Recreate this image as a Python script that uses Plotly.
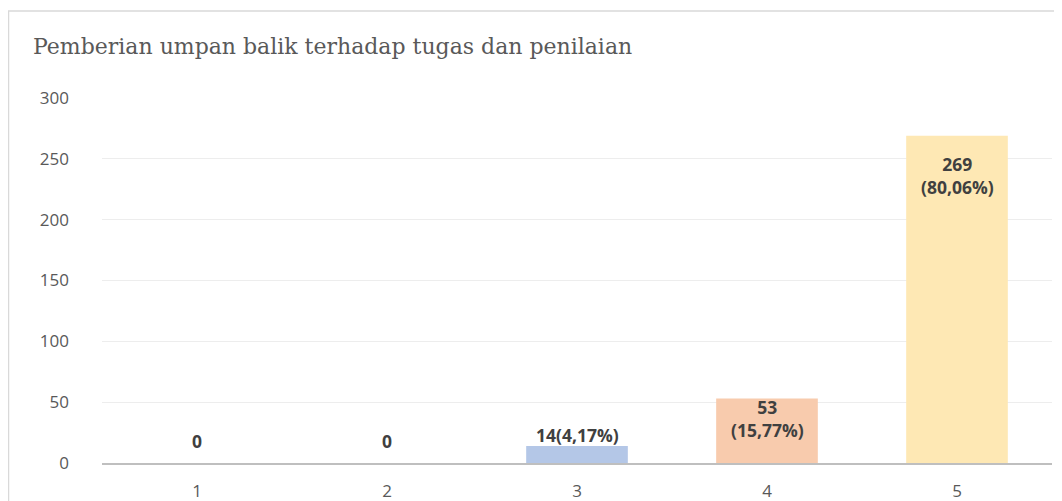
import plotly.graph_objects as go

categories = ["1", "2", "3", "4", "5"]
values = [0, 0, 14, 53, 269]
labels = ["0", "0", "14(4,17%)", "53<br>(15,77%)", "269<br>(80,06%)"]
title_text = "Pemberian umpan balik terhadap tugas dan penilaian"
y_ticks = [0, 50, 100, 150, 200, 250, 300]

bar_colors = ["#B4C7E7", "#B4C7E7", "#B4C7E7", "#F8CBAD", "#FEE8B4"]
label_shift = [22, 22, 11, -20, -40]

# page has an 8px body margin: figure coords = page coords - 8
OFF = 8
W, H = 1062, 501
plot_l, plot_r = 102 - OFF, 1052 - OFF
plot_t, plot_b = 98 - OFF, 463 - OFF

fig = go.Figure()
fig.add_trace(go.Bar(
    x=categories, y=values, width=0.535,
    marker=dict(color=bar_colors, line=dict(width=0)),
    hoverinfo="skip",
))

for i, (v, t, s) in enumerate(zip(values, labels, label_shift)):
    fig.add_annotation(
        x=i, y=v, text="<b>" + t + "</b>", showarrow=False,
        xref="x", yref="y", yanchor="middle", yshift=s,
        font=dict(family="Open Sans", size=17.5, color="#404040"),
    )

# chart border
pw, ph = plot_r - plot_l, plot_b - plot_t
fig.add_shape(type="rect", xref="paper", yref="paper",
              x0=(0.5 - plot_l) / pw, x1=1.2, y0=-0.5, y1=(plot_b - (11 - OFF)) / ph,
              line=dict(color="#D9D9D9", width=1.5), fillcolor="rgba(0,0,0,0)",
              layer="below")

fig.update_layout(
    width=W, height=H,
    margin=dict(l=plot_l, r=W - plot_r, t=plot_t, b=H - plot_b, autoexpand=False),
    paper_bgcolor="white", plot_bgcolor="white",
    showlegend=False,
    title=dict(text=title_text, x=(33 - OFF) / W, xanchor="left", xref="container",
               y=1 - (46 - OFF) / H, yanchor="middle", yref="container",
               font=dict(family="DejaVu Serif", size=22, color="#595959")),
)
fig.update_xaxes(type="category", range=[-0.5, 4.5], showgrid=False, showline=True,
                 linecolor="#BFBFBF", linewidth=2, ticks="", ticklabelstandoff=12,
                 automargin=False,
                 tickfont=dict(family="Open Sans", size=17, color="#595959"))
fig.update_yaxes(range=[0, 300], tickvals=y_ticks, showgrid=True, gridcolor="#EDEDED",
                 gridwidth=1, zeroline=False, showline=False, ticks="",
                 ticklabelstandoff=32, automargin=False,
                 tickfont=dict(family="Open Sans", size=17, color="#595959"))

fig.write_html("out.html")
